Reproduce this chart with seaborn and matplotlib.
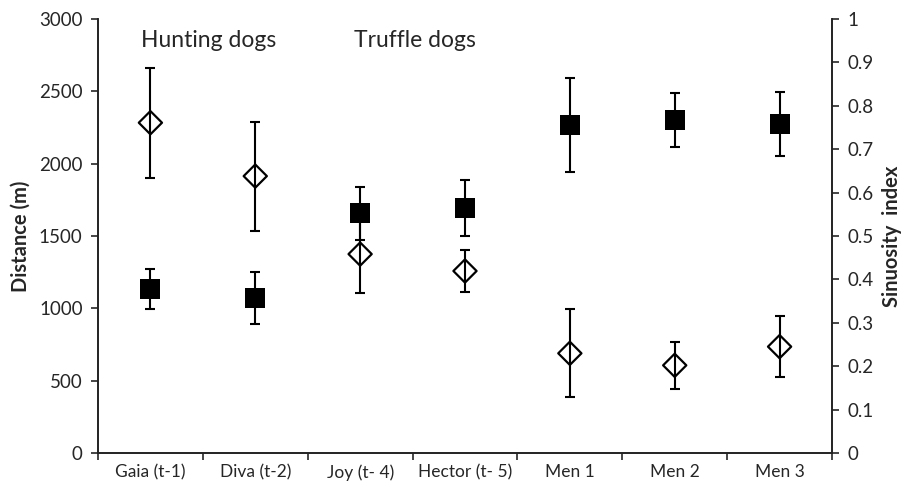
import matplotlib
matplotlib.use("Agg")
import matplotlib.pyplot as plt
import seaborn as sns
import pandas as pd

# categories on the x axis
subjects = ["Gaia (t-1)", "Diva (t-2)", "Joy (t- 4)", "Hector (t- 5)", "Men 1", "Men 2", "Men 3"]

# distance travelled (m), open diamonds, left axis
distance = [2283, 1914, 1375, 1258, 689, 606, 735]
distance_err = [381, 377, 270, 145, 305, 163, 210]

# sinuosity index, filled squares, right axis
sinuosity = [0.377, 0.358, 0.552, 0.564, 0.755, 0.767, 0.758]
sinuosity_err = [0.046, 0.060, 0.061, 0.065, 0.108, 0.062, 0.073]

left_ticks = [0, 500, 1000, 1500, 2000, 2500, 3000]
right_ticks = [0, 0.1, 0.2, 0.3, 0.4, 0.5, 0.6, 0.7, 0.8, 0.9, 1]
right_labels = ["0", "0.1", "0.2", "0.3", "0.4", "0.5", "0.6", "0.7", "0.8", "0.9", "1"]

df = pd.DataFrame({"subject": subjects, "distance": distance, "distance_err": distance_err,
                   "sinuosity": sinuosity, "sinuosity_err": sinuosity_err})

sns.set_style("ticks")
plt.rcParams['font.family'] = ['Lato', 'DejaVu Sans']

fig = plt.figure(figsize=(9.13, 4.92), dpi=100)
ax = fig.add_axes([0.1073, 0.0793, 0.8040, 0.8821])
ax2 = ax.twinx()

xpos = list(range(len(subjects)))

# distance: open diamonds
ax.errorbar(xpos, df["distance"], yerr=df["distance_err"], fmt="none",
            ecolor="black", elinewidth=1.5, capsize=3.6, capthick=1.5, zorder=2)
sns.scatterplot(data=df, x="subject", y="distance", ax=ax, marker="D", s=140,
                facecolor="none", edgecolor="black", linewidth=1.6, zorder=3)

# sinuosity: filled squares
ax2.errorbar(xpos, df["sinuosity"], yerr=df["sinuosity_err"], fmt="none",
             ecolor="black", elinewidth=1.5, capsize=3.6, capthick=1.5, zorder=2)
sns.scatterplot(data=df, x="subject", y="sinuosity", ax=ax2, marker="s", s=200,
                color="black", edgecolor="black", linewidth=0, zorder=3)

ax.set_xlim(-0.5, len(subjects) - 0.5)
ax.set_ylim(0, 3000)
ax2.set_ylim(0, 1)

ax.set_yticks(left_ticks)
ax.set_yticklabels([str(t) for t in left_ticks])
ax2.set_yticks(right_ticks)
ax2.set_yticklabels(right_labels)

# x ticks at category boundaries, labels centred under categories
ax.set_xticks([i - 0.5 for i in range(len(subjects) + 1)])
ax.set_xticklabels([])
ax.set_xticks(xpos, minor=True)
ax.set_xticklabels(subjects, minor=True)
ax.tick_params(axis="x", which="minor", length=0, labelsize=12.5, pad=8)
ax.tick_params(axis="x", which="major", length=5, width=1.2, direction="out")
ax.tick_params(axis="y", length=5, width=1.2, labelsize=13.5, pad=6)
ax2.tick_params(axis="y", length=5, width=1.2, labelsize=13.5, pad=6)

for a in (ax, ax2):
    a.spines["top"].set_visible(False)
    for side in ("left", "right", "bottom"):
        a.spines[side].set_linewidth(1.2)
        a.spines[side].set_color("#222222")

ax.set_xlabel("")
ax.set_ylabel("Distance (m)", fontsize=14.5, fontweight="bold", labelpad=6)
ax2.set_ylabel("Sinuosity  index", fontsize=14.5, fontweight="bold", labelpad=6)

ax.text(0.56, 2850, "Hunting dogs", fontsize=16.5, ha="center", va="center")
ax.text(2.52, 2850, "Truffle dogs", fontsize=16.5, ha="center", va="center")

fig.savefig("out.png", dpi=100)
